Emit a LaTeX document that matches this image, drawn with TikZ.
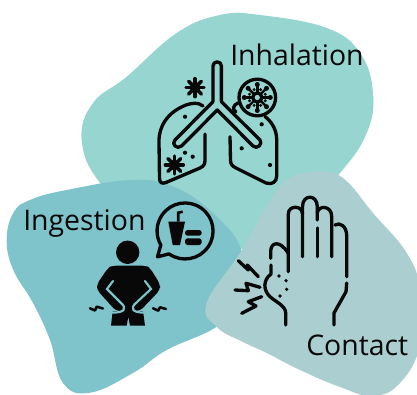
\documentclass[tikz,border=0pt]{standalone}
\usepackage{fontspec}
\setmainfont{Open Sans}
\usetikzlibrary{arrows.meta,positioning}
\definecolor{mint}{RGB}{151,213,208}
\definecolor{lagoon}{RGB}{127,195,203}
\definecolor{mist}{RGB}{171,207,208}
\definecolor{ink}{RGB}{8,8,8}
\tikzset{
  icon/.style={draw=ink,line width=2.5pt,line cap=round,line join=round},
  thin icon/.style={icon,line width=1.9pt},
  gap/.style={draw=lagoon,line width=1.6pt,line cap=round},
  route/.style={font=\fontsize{21.3pt}{24pt}\selectfont,text=ink,inner sep=0pt,anchor=base west},
  % pictograms
  pics/spark/.style={code={
    \foreach \a in {0,45,...,135} \draw[ink,line width=2.6pt,line cap=round] (\a:-#1) -- (\a:#1);
    \fill[ink] (0,0) circle (#1*0.6);
  }},
  pics/spark/.default=8,
}
\begin{document}
\begin{tikzpicture}[x=0.75pt,y=-0.75pt]
  \useasboundingbox (0,0) rectangle (417,395);
  % blobs
  \fill[mint] plot[smooth cycle,tension=0.7] coordinates {(81.7,140) (93,103) (126.7,76.7)
    (176.7,33) (220,15) (260,15) (326.7,28) (360,53) (373,93) (366.7,133) (340,173)
    (290,225) (230,250) (150,230) (100,183)};
  \fill[lagoon] plot[smooth cycle,tension=0.7] coordinates {(6.7,240) (13.3,213) (30,200)
    (66.7,190) (133,180) (176.7,188) (216.7,216.7) (241.7,251.7) (240,300) (216.7,326.7)
    (166.7,350) (133,373) (90,392.7) (63,383) (50,340) (33,303) (13.3,270)};
  \fill[mist] plot[smooth cycle,tension=0.7] coordinates {(206.7,303) (240,253) (266.7,206.7)
    (286.7,180) (316.7,171.7) (343,178) (373,213) (406.7,253) (420,290) (420,345)
    (400,383) (373,396) (340,387) (300,370) (266.7,353) (243,342) (216.7,327)};
  % lungs
  \draw[icon] (213,101.7) -- (213,66) arc (180:360:4.2) -- (221.4,101.7) -- (260,140)
    .. controls (263,144) and (257,150) .. (253,146) -- (217.3,110) -- (181.5,146)
    .. controls (177,150) and (171,144) .. (175,140) -- (213,101.7);
  \draw[icon] (203,106) .. controls (198,102) and (192,103) .. (186,105)
    .. controls (168,112) and (158.5,126) .. (159,142) -- (159.5,178)
    .. controls (159.5,183) and (162,184) .. (166,182.5) -- (200,168)
    .. controls (204,166) and (205,164) .. (205,160) -- (205,134);
  \draw[icon] (230,136.7) -- (230.5,160) .. controls (230.5,164) and (232,166) .. (236,168)
    -- (266,183) .. controls (272,185) and (276.7,182) .. (276.7,176) -- (276.7,140)
    .. controls (276.7,130) and (272,122) .. (265,116.5);
  \draw[icon] (238,103) .. controls (233,105) and (232,110) .. (236,112);
  \fill[ink] (185,116.7) circle (2.1) (185,152.7) circle (2.1) (192.7,156.7) circle (2.1)
    (261.7,124.3) circle (2.1) (241.7,148.3) circle (2.1) (270,165) circle (2.1);
  \pic at (195,87.7) {spark=9};
  \pic at (174.3,165) {spark=9};
  % virus
  \draw[icon] (257.3,97.5) circle (18.3);
  \foreach \a in {0,45,...,315} {
    \draw[ink,line width=1.8pt] (257.3,97.5) ++(\a:3.6) -- ++(\a:9.5);
    \fill[ink] (257.3,97.5) ++(\a:13) circle (2.5);
    \fill[ink] (257.3,97.5) ++(\a+22.5:8.5) circle (1.6);
  }
  \fill[ink] (257.3,97.5) circle (6);
  \fill[mint] (257.3,97.5) circle (2.6);
  % person
  \fill[ink] (127.7,252.3) circle (11.7);
  \fill[ink,rounded corners=3pt] (112,265.7) -- (146,265.7) -- (150,268) -- (160,284)
    -- (160,290) -- (140,311) -- (116,311) -- (97,290) -- (97,284) -- (108,268) -- cycle;
  \fill[ink] (112.7,311) -- (143,311) -- (145,325.7) -- (130,325.7) -- (128.3,316.7)
    -- (126.7,325.7) -- (111,325.7) -- cycle;
  \draw[gap] (113,281) -- (107,289) -- (121,303) .. controls (127,308) and (125,313) .. (112,312.5);
  \draw[gap] (145,281) -- (151,289) -- (136,303) .. controls (130,308) and (132,313) .. (145,312.5);
  \draw[thin icon] (90,308.3) -- (95,310.5) -- (96.7,306.7) -- (103,308.5);
  \draw[thin icon] (153,308.3) -- (158.3,310.7) -- (160,307.3) -- (166,309);
  % speech bubble
  \draw[icon] (160.8,245) -- (157.5,256.8) -- (169,253.9) arc (125:-210:28) -- cycle;
  \fill[ink] (168.3,221.7) -- (185,221.7) -- (180,245) -- (172.7,245) -- cycle;
  \draw[ink,line width=2pt] (178.3,221.7) -- (178.3,212.7) -- (182.7,211.7);
  \fill[ink,rounded corners=2pt] (185,230) rectangle (201.7,235.7) (185,238.3) rectangle (201.7,245);
  % hand
  \draw[icon] (288.3,271.7) -- (288.3,214) .. controls (288.3,205) and (302.5,205) .. (302.5,214);
  \draw[icon] (302.5,256.7) -- (302.5,206.7) .. controls (302.5,194) and (317.3,194) .. (317.3,206.7) -- (317.3,220);
  \draw[icon] (317.3,228) -- (317.3,256.7);
  \draw[icon] (317.3,213) .. controls (318,205) and (331.7,205) .. (331.7,216.7) -- (331.7,256.7);
  \draw[icon] (335,225) .. controls (340,222) and (346.7,226) .. (346.7,236) -- (346.7,276.7);
  \draw[icon] (346.7,283) -- (346,291.7) -- (334,313) -- (334,325);
  \draw[icon] (270.7,258.3) -- (270.7,251) .. controls (271,242) and (280,240) .. (288,253);
  \draw[icon] (271,265) -- (271,274) .. controls (263,280) and (263,290) .. (270,296.7)
    .. controls (276,302) and (285.7,306) .. (285.7,313) -- (285.7,325);
  \fill[ink] (279,276) circle (1.8) (286,280.7) circle (1.8) (286.7,289.3) circle (1.8) (280,296) circle (1.8);
  \draw[icon] (238.3,260.7) -- (248.3,270) -- (247.3,265) -- (258.3,276.7);
  \draw[icon] (235,290) -- (248.3,290.7) -- (246,283.3) -- (260,287.3);
  \draw[icon] (241.7,313.3) -- (256,306) -- (248.3,301.7) -- (261.7,296.7);
  % labels
  \node[route] (inhalation) at (230,66) {Inhalation};
  \node[route] (ingestion) at (23,230) {Ingestion};
  \node[route] (contact) at (306,355) {Contact};
\end{tikzpicture}
\end{document}
